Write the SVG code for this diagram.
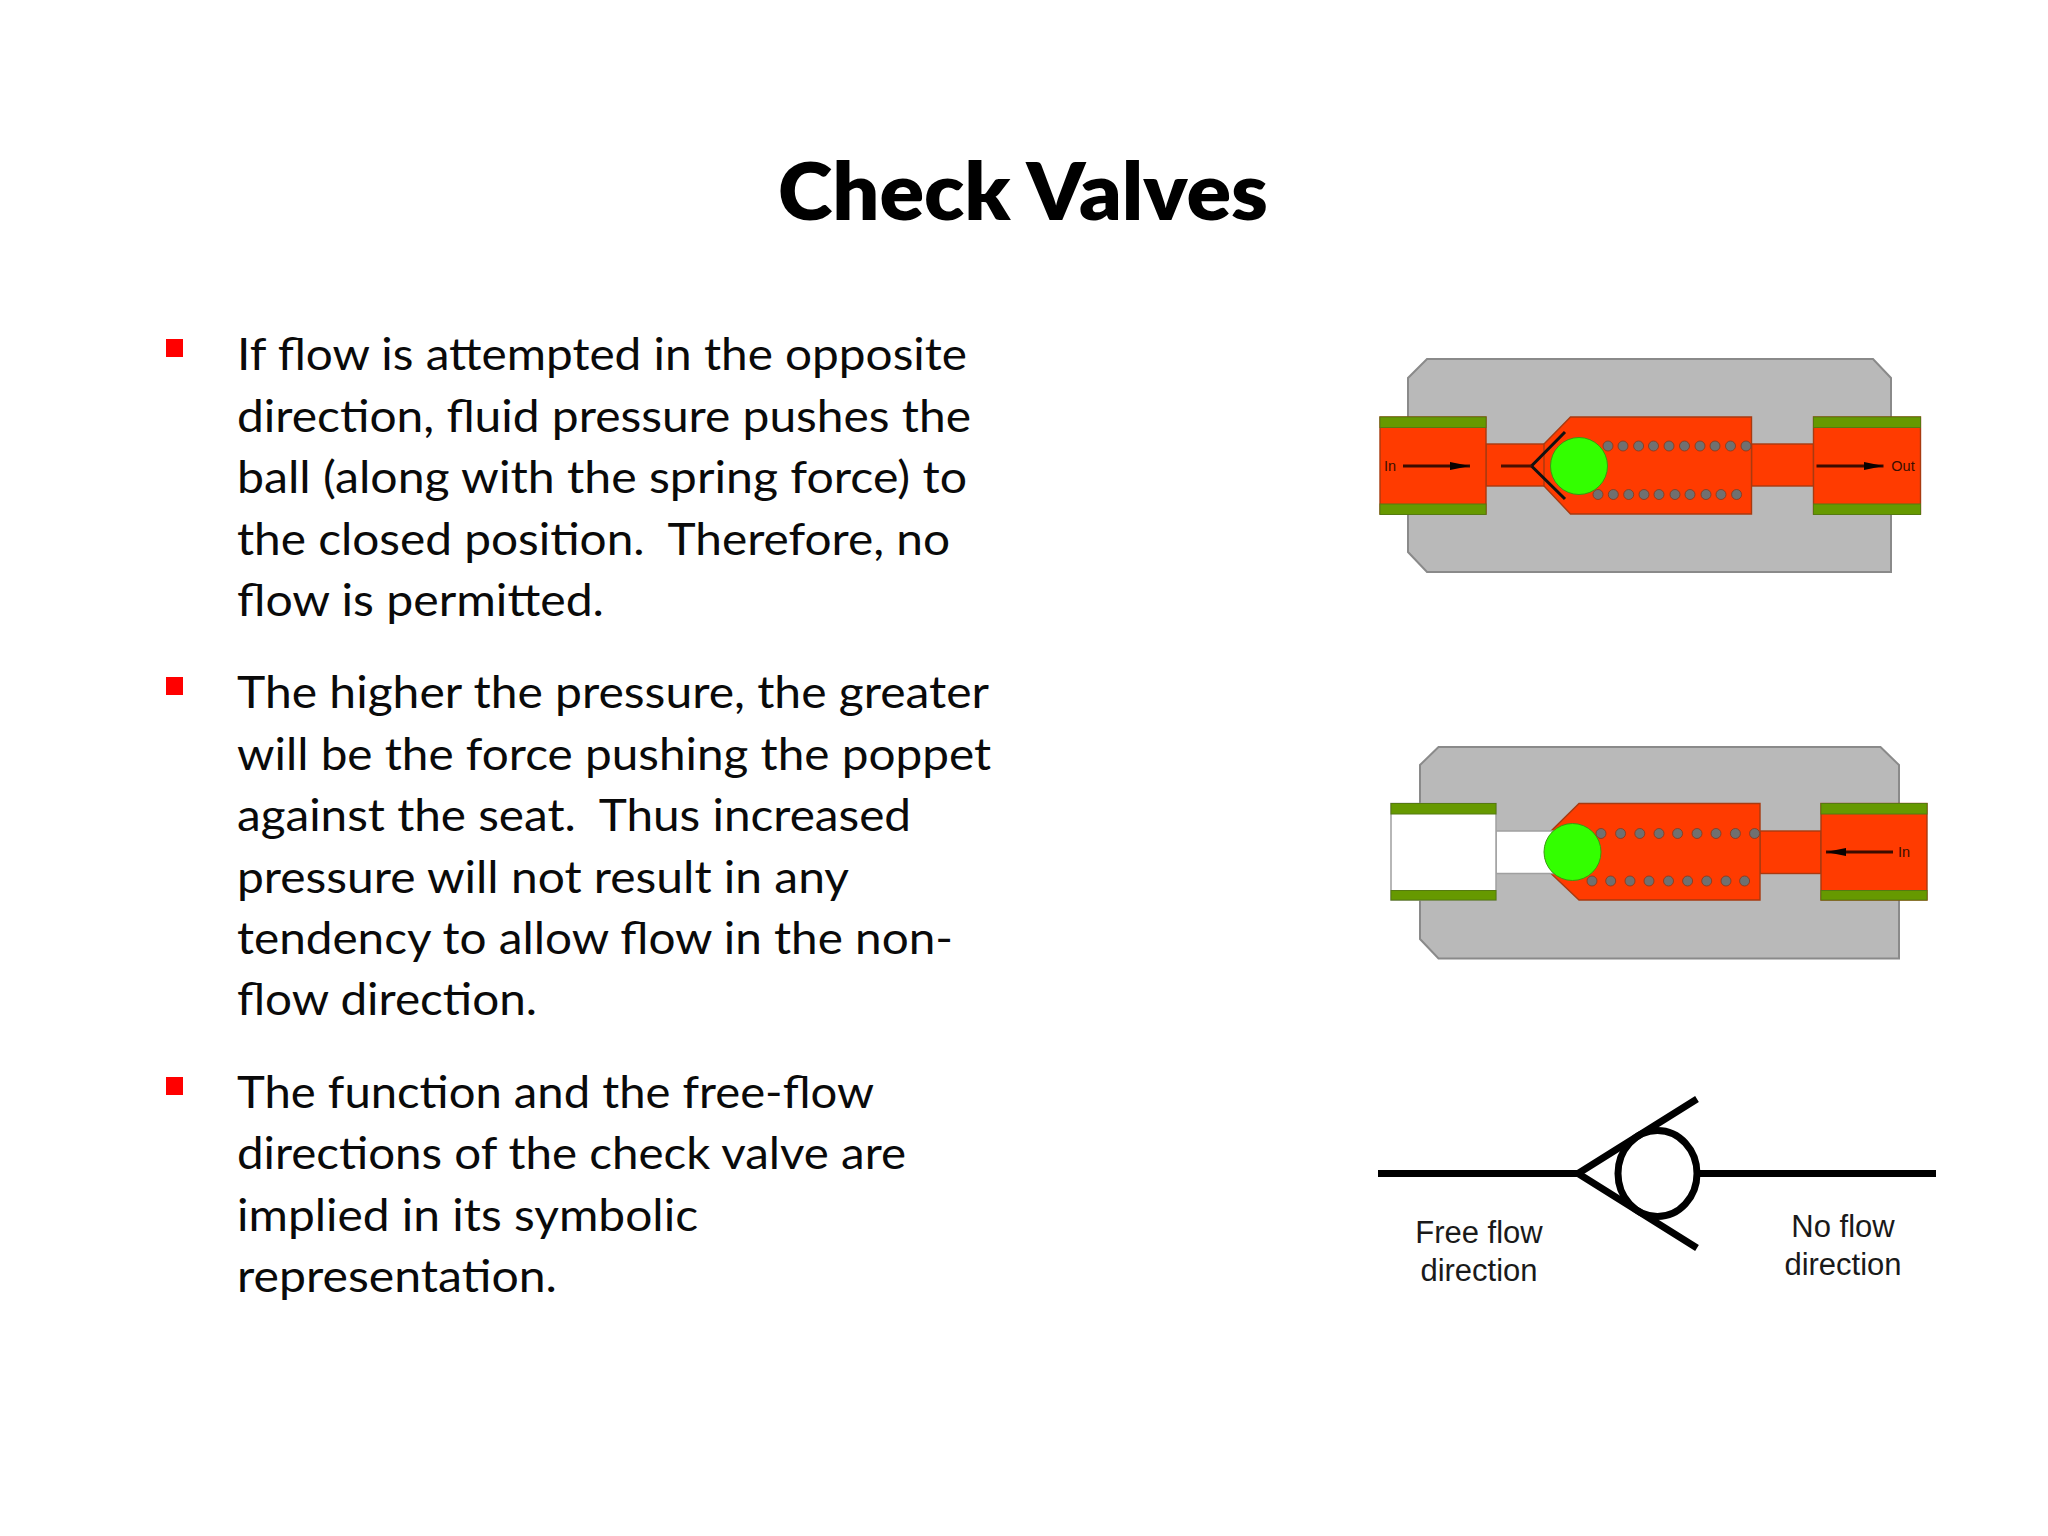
<svg xmlns="http://www.w3.org/2000/svg" width="2048" height="1536" viewBox="0 0 2048 1536">
<defs>
<marker id="head" markerUnits="userSpaceOnUse" markerWidth="22" markerHeight="12" refX="20" refY="6" orient="auto"><path d="M0,2 L20,6 L0,10 Z" fill="#0a0200"/></marker>
<style>
.t{font-family:"Lato","Carlito","Noto Sans",sans-serif;font-size:45px;fill:#0a0a0a;white-space:pre}
.h{font-family:"Lato","Carlito","Noto Sans",sans-serif;font-size:80px;font-weight:800;fill:#000000}
.l{font-family:"Liberation Sans",Arial,sans-serif;font-size:31px;fill:#1a1a1a;text-anchor:middle}
.s{font-family:"Liberation Sans",Arial,sans-serif;font-size:14.5px;fill:#3a0e00;text-anchor:middle}
.b{fill:#ff0000}
.body{fill:#b9b9b9;stroke:#8a8a8a;stroke-width:2}
.o{fill:#ff3b00;stroke:#a83a10;stroke-width:1.4}
.g{fill:#669900;stroke:#557a10;stroke-width:1}
.w{fill:#ffffff;stroke:#a0a0a0;stroke-width:1.5}
.ball{fill:#33ff00;stroke:#3a9a10;stroke-width:1}
.d{fill:#707070;stroke:#803a20;stroke-width:0.8}
.a{stroke:#3a0c00;stroke-width:3;fill:none;marker-end:url(#head)}
.p{stroke:#111111;stroke-width:3;fill:none}
.sym{stroke:#000000;stroke-width:7;fill:none}
</style>
</defs>
<rect width="2048" height="1536" fill="#ffffff"/>
<text id="title" class="h" x="778" y="219.5" textLength="490" lengthAdjust="spacingAndGlyphs">Check Valves</text>
<g id="bullets">
<rect class="b" x="166" y="339" width="17" height="18"/>
<rect class="b" x="166" y="677" width="17" height="18"/>
<rect class="b" x="166" y="1077" width="17" height="18"/>
<text class="t" x="237" y="370.3" textLength="730" lengthAdjust="spacingAndGlyphs">If flow is attempted in the opposite</text>
<text class="t" x="237" y="431.7" textLength="734" lengthAdjust="spacingAndGlyphs">direction, fluid pressure pushes the</text>
<text class="t" x="237" y="493.1" textLength="730" lengthAdjust="spacingAndGlyphs">ball (along with the spring force) to</text>
<text class="t" x="237" y="554.5" textLength="713" lengthAdjust="spacingAndGlyphs">the closed position.  Therefore, no</text>
<text class="t" x="237" y="615.9" textLength="367" lengthAdjust="spacingAndGlyphs">flow is permitted.</text>
<text class="t" x="237" y="708.3" textLength="752" lengthAdjust="spacingAndGlyphs">The higher the pressure, the greater</text>
<text class="t" x="237" y="769.7" textLength="754" lengthAdjust="spacingAndGlyphs">will be the force pushing the poppet</text>
<text class="t" x="237" y="831.1" textLength="674" lengthAdjust="spacingAndGlyphs">against the seat.  Thus increased</text>
<text class="t" x="237" y="892.5" textLength="612" lengthAdjust="spacingAndGlyphs">pressure will not result in any</text>
<text class="t" x="237" y="953.9" textLength="716" lengthAdjust="spacingAndGlyphs">tendency to allow flow in the non-</text>
<text class="t" x="237" y="1015.3" textLength="300" lengthAdjust="spacingAndGlyphs">flow direction.</text>
<text class="t" x="237" y="1107.8" textLength="637" lengthAdjust="spacingAndGlyphs">The function and the free-flow</text>
<text class="t" x="237" y="1169.2" textLength="669" lengthAdjust="spacingAndGlyphs">directions of the check valve are</text>
<text class="t" x="237" y="1230.6" textLength="461" lengthAdjust="spacingAndGlyphs">implied in its symbolic</text>
<text class="t" x="237" y="1292" textLength="320" lengthAdjust="spacingAndGlyphs">representation.</text>
</g>
<g id="valve-open">
<path class="body" d="M1427,359 H1873 L1891,378 V572 H1427 L1408,552 V378 Z"/>
<rect class="o" x="1486" y="444" width="60" height="42"/>
<rect class="o" x="1751.5" y="444" width="62" height="42"/>
<path class="o" d="M1544,444 L1570.5,417 H1751.5 V514 H1570.5 L1544,486 Z"/>
<rect class="o" x="1380" y="417" width="106" height="97"/>
<rect class="o" x="1813.5" y="417" width="107" height="97"/>
<rect class="g" x="1380" y="417" width="106" height="10.5"/>
<rect class="g" x="1380" y="504" width="106" height="10.5"/>
<rect class="g" x="1813.5" y="417" width="107" height="10.5"/>
<rect class="g" x="1813.5" y="504" width="107" height="10.5"/>
<path class="p" d="M1565,432 L1531.5,466 L1565,499"/>
<path class="p" stroke="#4a1000" style="stroke:#4a1000" d="M1501,466 H1531.5"/>
<circle class="ball" cx="1579" cy="466" r="28.5"/>
<g>
<circle class="d" cx="1608" cy="446" r="5"/><circle class="d" cx="1623" cy="446" r="5"/><circle class="d" cx="1638.6" cy="446" r="5"/><circle class="d" cx="1653.5" cy="446" r="5"/><circle class="d" cx="1669" cy="446" r="5"/><circle class="d" cx="1684.5" cy="446" r="5"/><circle class="d" cx="1700" cy="446" r="5"/><circle class="d" cx="1715" cy="446" r="5"/><circle class="d" cx="1730.5" cy="446" r="5"/><circle class="d" cx="1746" cy="446" r="5"/>
<circle class="d" cx="1598" cy="494.5" r="5"/><circle class="d" cx="1613.3" cy="494.5" r="5"/><circle class="d" cx="1628.7" cy="494.5" r="5"/><circle class="d" cx="1644" cy="494.5" r="5"/><circle class="d" cx="1659" cy="494.5" r="5"/><circle class="d" cx="1675" cy="494.5" r="5"/><circle class="d" cx="1690" cy="494.5" r="5"/><circle class="d" cx="1706" cy="494.5" r="5"/><circle class="d" cx="1721" cy="494.5" r="5"/><circle class="d" cx="1736.6" cy="494.5" r="5"/>
</g>
<line class="a" x1="1403" y1="466" x2="1470" y2="466"/>
<line class="a" x1="1816.5" y1="466" x2="1883.5" y2="466"/>
<text class="s" x="1390" y="471">In</text>
<text class="s" x="1903" y="471">Out</text>
</g>
<g id="valve-closed">
<path class="body" d="M1438.5,747 H1880.5 L1899,765 V958.5 H1438.5 L1420,939 V765 Z"/>
<rect class="o" x="1760" y="831" width="61" height="42.5"/>
<path class="o" d="M1579,803.5 H1760 V900 H1579 L1551,873.5 V831 Z"/>
<rect class="w" x="1496" y="831" width="58" height="42.5"/>
<rect class="w" x="1391" y="803.5" width="105" height="96.5"/>
<rect class="o" x="1821" y="803.5" width="106" height="96.5"/>
<rect class="g" x="1391" y="803.5" width="105" height="10.5"/>
<rect class="g" x="1391" y="890.5" width="105" height="9.5"/>
<rect class="g" x="1821" y="803.5" width="106" height="10.5"/>
<rect class="g" x="1821" y="890.5" width="106" height="9.5"/>
<circle class="ball" cx="1572.5" cy="852" r="28.5"/>
<g>
<circle class="d" cx="1601" cy="833.5" r="5"/><circle class="d" cx="1620.6" cy="833.5" r="5"/><circle class="d" cx="1639.8" cy="833.5" r="5"/><circle class="d" cx="1659" cy="833.5" r="5"/><circle class="d" cx="1677.6" cy="833.5" r="5"/><circle class="d" cx="1697" cy="833.5" r="5"/><circle class="d" cx="1716" cy="833.5" r="5"/><circle class="d" cx="1735.4" cy="833.5" r="5"/><circle class="d" cx="1754.6" cy="833.5" r="5"/>
<circle class="d" cx="1592" cy="881" r="5"/><circle class="d" cx="1610.7" cy="881" r="5"/><circle class="d" cx="1630" cy="881" r="5"/><circle class="d" cx="1649" cy="881" r="5"/><circle class="d" cx="1668.5" cy="881" r="5"/><circle class="d" cx="1687.6" cy="881" r="5"/><circle class="d" cx="1706.7" cy="881" r="5"/><circle class="d" cx="1726" cy="881" r="5"/><circle class="d" cx="1744.6" cy="881" r="5"/>
</g>
<line class="a" x1="1893" y1="852" x2="1826" y2="852"/>
<text class="s" x="1904" y="857">In</text>
</g>
<g id="symbol">
<path class="sym" d="M1378,1173.5 H1578 M1700,1173.5 H1936"/>
<path class="sym" d="M1697,1099 L1578,1173.5 L1697,1248"/>
<ellipse class="sym" cx="1657.5" cy="1173.5" rx="39.5" ry="43"/>
<text class="l" x="1479" y="1243">Free flow</text>
<text class="l" x="1479" y="1281">direction</text>
<text class="l" x="1843" y="1237">No flow</text>
<text class="l" x="1843" y="1275">direction</text>
</g>
</svg>
